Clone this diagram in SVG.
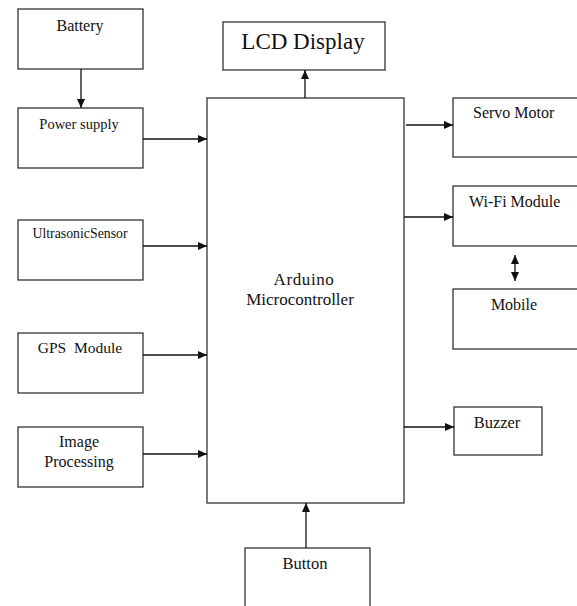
<svg xmlns="http://www.w3.org/2000/svg" width="577" height="606" viewBox="0 0 577 606">
<defs>
<marker id="ah" markerUnits="userSpaceOnUse" markerWidth="10" markerHeight="10" refX="9" refY="4" orient="auto-start-reverse">
<path d="M0,0 L9,4 L0,8 Z" fill="#111"/>
</marker>
<style>
.box{fill:#fff;stroke:#333;stroke-width:1.3}
text{font-family:'Liberation Serif','Times New Roman',serif;font-size:16px;fill:#111}
.m{text-anchor:middle}
.c{stroke:#111;stroke-width:1.3;fill:none}
</style>
</defs>
<rect width="577" height="606" fill="#fff"/>
<g id="battery"><rect class="box" x="18" y="9" width="125" height="60"/><text class="m" x="80" y="31">Battery</text></g>
<g id="power-supply"><rect class="box" x="18" y="108" width="125" height="60"/><text class="m" x="79" y="129" style="font-size:14.5px">Power supply</text></g>
<g id="ultrasonic"><rect class="box" x="18" y="220" width="125" height="60"/><text class="m" x="80" y="238" style="font-size:13.8px">UltrasonicSensor</text></g>
<g id="gps"><rect class="box" x="18" y="333" width="125" height="60"/><text class="m" x="80" y="353" style="font-size:15.5px" xml:space="preserve">GPS  Module</text></g>
<g id="image-processing"><rect class="box" x="18" y="427" width="125" height="60"/><text class="m" x="79" y="447">Image</text><text class="m" x="79" y="467">Processing</text></g>
<g id="lcd"><rect class="box" x="223" y="22" width="162" height="48"/><text class="m" x="303" y="49" style="font-size:23px">LCD Display</text></g>
<g id="arduino"><rect class="box" x="207" y="98" width="197" height="405"/><text class="m" x="304" y="285" style="font-size:17px;letter-spacing:0.6px">Arduino</text><text class="m" x="300" y="305" style="font-size:17px">Microcontroller</text></g>
<g id="servo"><rect class="box" x="453" y="98" width="140" height="59"/><text x="473" y="118">Servo Motor</text></g>
<g id="wifi"><rect class="box" x="453" y="186" width="140" height="60"/><text x="469" y="207">Wi-Fi Module</text></g>
<g id="mobile"><rect class="box" x="453" y="289" width="140" height="60"/><text class="m" x="514" y="310">Mobile</text></g>
<g id="buzzer"><rect class="box" x="454" y="407" width="88" height="48"/><text class="m" x="497" y="428" style="font-size:16.5px">Buzzer</text></g>
<g id="button"><rect class="box" x="245" y="548" width="125" height="70"/><text class="m" x="305" y="569" style="font-size:16.5px">Button</text></g>
<g id="connectors">
<line class="c" x1="81" y1="69" x2="81" y2="108" marker-end="url(#ah)"/>
<line class="c" x1="143" y1="139" x2="207" y2="139" marker-end="url(#ah)"/>
<line class="c" x1="143" y1="246" x2="207" y2="246" marker-end="url(#ah)"/>
<line class="c" x1="143" y1="355" x2="207" y2="355" marker-end="url(#ah)"/>
<line class="c" x1="143" y1="454" x2="207" y2="454" marker-end="url(#ah)"/>
<line class="c" x1="305" y1="98" x2="305" y2="70" marker-end="url(#ah)"/>
<line class="c" x1="406" y1="125" x2="453" y2="125" marker-end="url(#ah)"/>
<line class="c" x1="404" y1="217" x2="453" y2="217" marker-end="url(#ah)"/>
<line class="c" x1="515" y1="255" x2="515" y2="281" marker-start="url(#ah)" marker-end="url(#ah)"/>
<line class="c" x1="404" y1="427" x2="454" y2="427" marker-end="url(#ah)"/>
<line class="c" x1="306" y1="548" x2="306" y2="503" marker-end="url(#ah)"/>
</g>
</svg>
